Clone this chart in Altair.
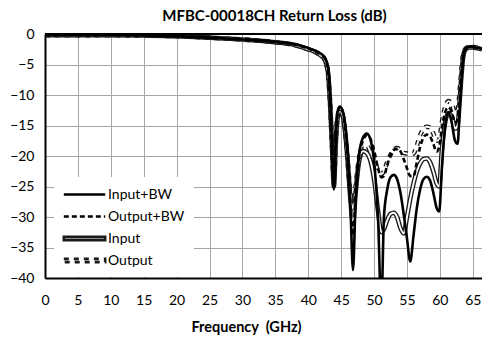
import altair as alt
import pandas as pd

# ---------------- data ----------------
freq = [0, 5, 10, 15, 20, 25, 30, 35, 38, 40, 41, 42, 42.5, 43, 43.3, 43.6, 43.9, 44.2,
        44.5, 44.8, 45.2, 45.6, 46.0, 46.4, 46.8, 47.2, 47.7, 48.3, 48.9, 49.5, 50.1,
        50.6, 51.1, 51.5, 52.0, 52.5, 53.0, 53.5, 54.0, 54.5, 55.0, 55.5, 56.0, 56.5,
        57.0, 57.5, 58.0, 58.5, 59.0, 59.5, 59.9, 60.3, 60.8, 61.3, 61.8, 62.3, 62.7,
        63.0, 63.3, 63.6, 64.0, 64.5, 65.0, 65.5, 66.4]

input_bw = [-0.2, -0.2, -0.2, -0.25, -0.35, -0.6, -0.9, -1.3, -1.7, -2.3, -2.7, -3.3,
            -3.8, -5.5, -10, -18, -25.5, -17, -12.5, -11.9, -12.5, -15, -20, -28, -38.7,
            -27, -20, -17, -16.3, -17.5, -22, -30, -45, -30, -25.5, -23.5, -23.1, -23.8,
            -26, -29.5, -33.5, -37.3, -33, -28.5, -25.5, -23.8, -23.4, -24, -26, -28.5,
            -29.1, -22, -15, -12.8, -14.5, -17.5, -18, -12.5, -7, -3.5, -2.3, -2.1, -2.1,
            -2.2, -2.4]

output_bw = [-0.2, -0.2, -0.2, -0.25, -0.35, -0.6, -0.9, -1.3, -1.75, -2.4, -2.8, -3.5,
             -4.0, -6, -11, -19, -25, -17, -12.8, -12.0, -12.6, -15.5, -21, -28, -33,
             -26, -20, -17.5, -16.6, -17.3, -19.5, -22, -23.5, -23.3, -21.5, -19.8, -19.0,
             -18.8, -19.2, -20.5, -22, -23.3, -23.3, -21, -18.5, -17, -16.5, -16.8, -18,
             -19.3, -18.5, -15.5, -12.8, -12, -12.8, -14.5, -14, -10.5, -6, -3.2, -2.3,
             -2.1, -2.1, -2.2, -2.4]

input_ = [-0.2, -0.2, -0.2, -0.25, -0.35, -0.6, -0.9, -1.35, -1.8, -2.5, -2.9, -3.6,
          -4.2, -6.3, -11, -18, -25, -17.5, -13.5, -12.8, -13.3, -16, -21, -27, -31,
          -26, -21, -19.2, -19.5, -21, -24.5, -29, -32.5, -32, -30.5, -29.5, -29.3, -30,
          -31.8, -32.7, -30, -27, -24.5, -22.5, -21.2, -20.5, -20.4, -21, -22.5, -24.5,
          -25, -19, -14.5, -13, -13.5, -15.5, -15, -11, -6.5, -3.3, -2.4, -2.2, -2.2,
          -2.3, -2.5]

output_ = [-0.2, -0.2, -0.2, -0.25, -0.35, -0.6, -0.9, -1.35, -1.85, -2.5, -2.9, -3.6,
           -4.2, -6.5, -11, -18, -24, -17, -13.2, -12.6, -13.2, -16, -21, -26, -29,
           -25, -20.5, -18.2, -18.3, -19.5, -21, -22.3, -23, -22.5, -21, -19.8, -19,
           -18.7, -19, -19.5, -19.6, -19.7, -19.6, -18.3, -16.6, -15.6, -15.2, -15.3,
           -16.3, -17.5, -17.3, -14.5, -12, -11, -11.4, -12.8, -12.5, -9.5, -5.5, -3,
           -2.3, -2.1, -2.1, -2.2, -2.4]

series_names = ["Input+BW", "Output+BW", "Input", "Output"]
x_ticks = [0, 5, 10, 15, 20, 25, 30, 35, 40, 45, 50, 55, 60, 65]
y_ticks = [-40, -35, -30, -25, -20, -15, -10, -5, 0]
top_line = [0]

rows = []
for name, vals in zip(series_names, [input_bw, output_bw, input_, output_]):
    for f, v in zip(freq, vals):
        rows.append({"freq": f, "rl": v, "series": name})
df = pd.DataFrame(rows)

FONT = "Lato"
x_scale = alt.Scale(domain=[0, 66.4], nice=False, zero=False)
y_scale = alt.Scale(domain=[-40, 0], nice=False, zero=False)

x_enc = alt.X("freq:Q", scale=x_scale,
              axis=alt.Axis(values=x_ticks, grid=True, gridColor="#a6a6a6", gridWidth=1,
                            domainColor="black", domainWidth=2, ticks=False,
                            labelFont=FONT, labelFontSize=14, labelColor="black",
                            labelPadding=15, labelFlush=False, labelOverlap=False,
                            title="Frequency\u00a0\u00a0(GHz)", titleFont=FONT, titleFontSize=14.5,
                            titleFontWeight="bold", titleColor="black",
                            titleX=201, titleY=49, titleBaseline="middle",
                            titleAlign="center"))
y_enc = alt.Y("rl:Q", scale=y_scale,
              axis=alt.Axis(values=y_ticks, grid=True, gridColor="#a6a6a6", gridWidth=1,
                            domainColor="black", domainWidth=2, ticks=False,
                            labelFont=FONT, labelFontSize=14, labelColor="black",
                            labelPadding=11, labelFlush=False, labelOverlap=False,
                            title=None))

DARK = "#1a1a1a"


def series_line(name, color, width, dash=None):
    kw = dict(clip=True, interpolate="monotone", color=color, strokeWidth=width)
    if dash is not None:
        kw["strokeDash"] = dash
    return alt.Chart(df).transform_filter(alt.datum.series == name).mark_line(**kw).encode(
        x=x_enc, y=y_enc)


# double lines: dark outer stroke with a white centre
input_outer = series_line("Input", DARK, 4.6)
input_inner = series_line("Input", "white", 1.9)
output_outer = series_line("Output", DARK, 4.6, [5, 5])
output_inner = series_line("Output", "white", 1.9, [5, 5])
# thick black series
input_bw_line = series_line("Input+BW", "black", 2.6)
output_bw_line = series_line("Output+BW", "black", 2.6, [5, 3])

top = alt.Chart(pd.DataFrame({"rl": top_line})).mark_rule(color="black", strokeWidth=2).encode(
    y=y_enc
)

# legend (drawn from a layer whose marks are all filtered away)
LINE = "M-3,0H3"
DOUBLE = "M-3,-0.23H3V0.23H-3Z"
legend = alt.Legend(orient="none", legendX=9, legendY=143, padding=9, fillColor="white",
                    symbolSize=190, symbolOffset=13, labelFont=FONT, labelFontSize=14,
                    labelColor="black", title=None, labelOffset=15, rowPadding=6)
legend_layer = alt.Chart(df).transform_filter(alt.datum.rl > 100).mark_point(
    filled=False, opacity=1, size=190).encode(
    x=x_enc, y=y_enc,
    color=alt.Color("series:N", scale=alt.Scale(domain=series_names,
                    range=["black", "black", DARK, DARK]), legend=legend),
    shape=alt.Shape("series:N", scale=alt.Scale(domain=series_names,
                    range=[LINE, LINE, DOUBLE, DOUBLE]), legend=legend),
    strokeDash=alt.StrokeDash("series:N", scale=alt.Scale(domain=series_names,
                              range=[[1, 0], [5, 3], [1, 0], [5, 5]]), legend=legend),
    strokeWidth=alt.StrokeWidth("series:N", scale=alt.Scale(domain=series_names,
                                range=[2.6, 2.6, 1.3, 1.3]), legend=legend),
)

chart = alt.layer(
    input_outer, input_inner, output_outer, output_inner,
    input_bw_line, output_bw_line, top, legend_layer
).properties(
    width=437, height=244,
    title=alt.TitleParams("MFBC-00018CH Return Loss (dB)", font=FONT, fontSize=15,
                          fontWeight="bold", color="black", anchor="middle",
                          frame="group", dx=11, offset=3),
    autosize=alt.AutoSizeParams(type="none"),
    padding={"left": 45, "top": 34, "right": 0, "bottom": 59},
).configure_view(stroke=None).configure(background="white")

chart.save("out.html", embed_options={"renderer": "svg", "actions": False})
